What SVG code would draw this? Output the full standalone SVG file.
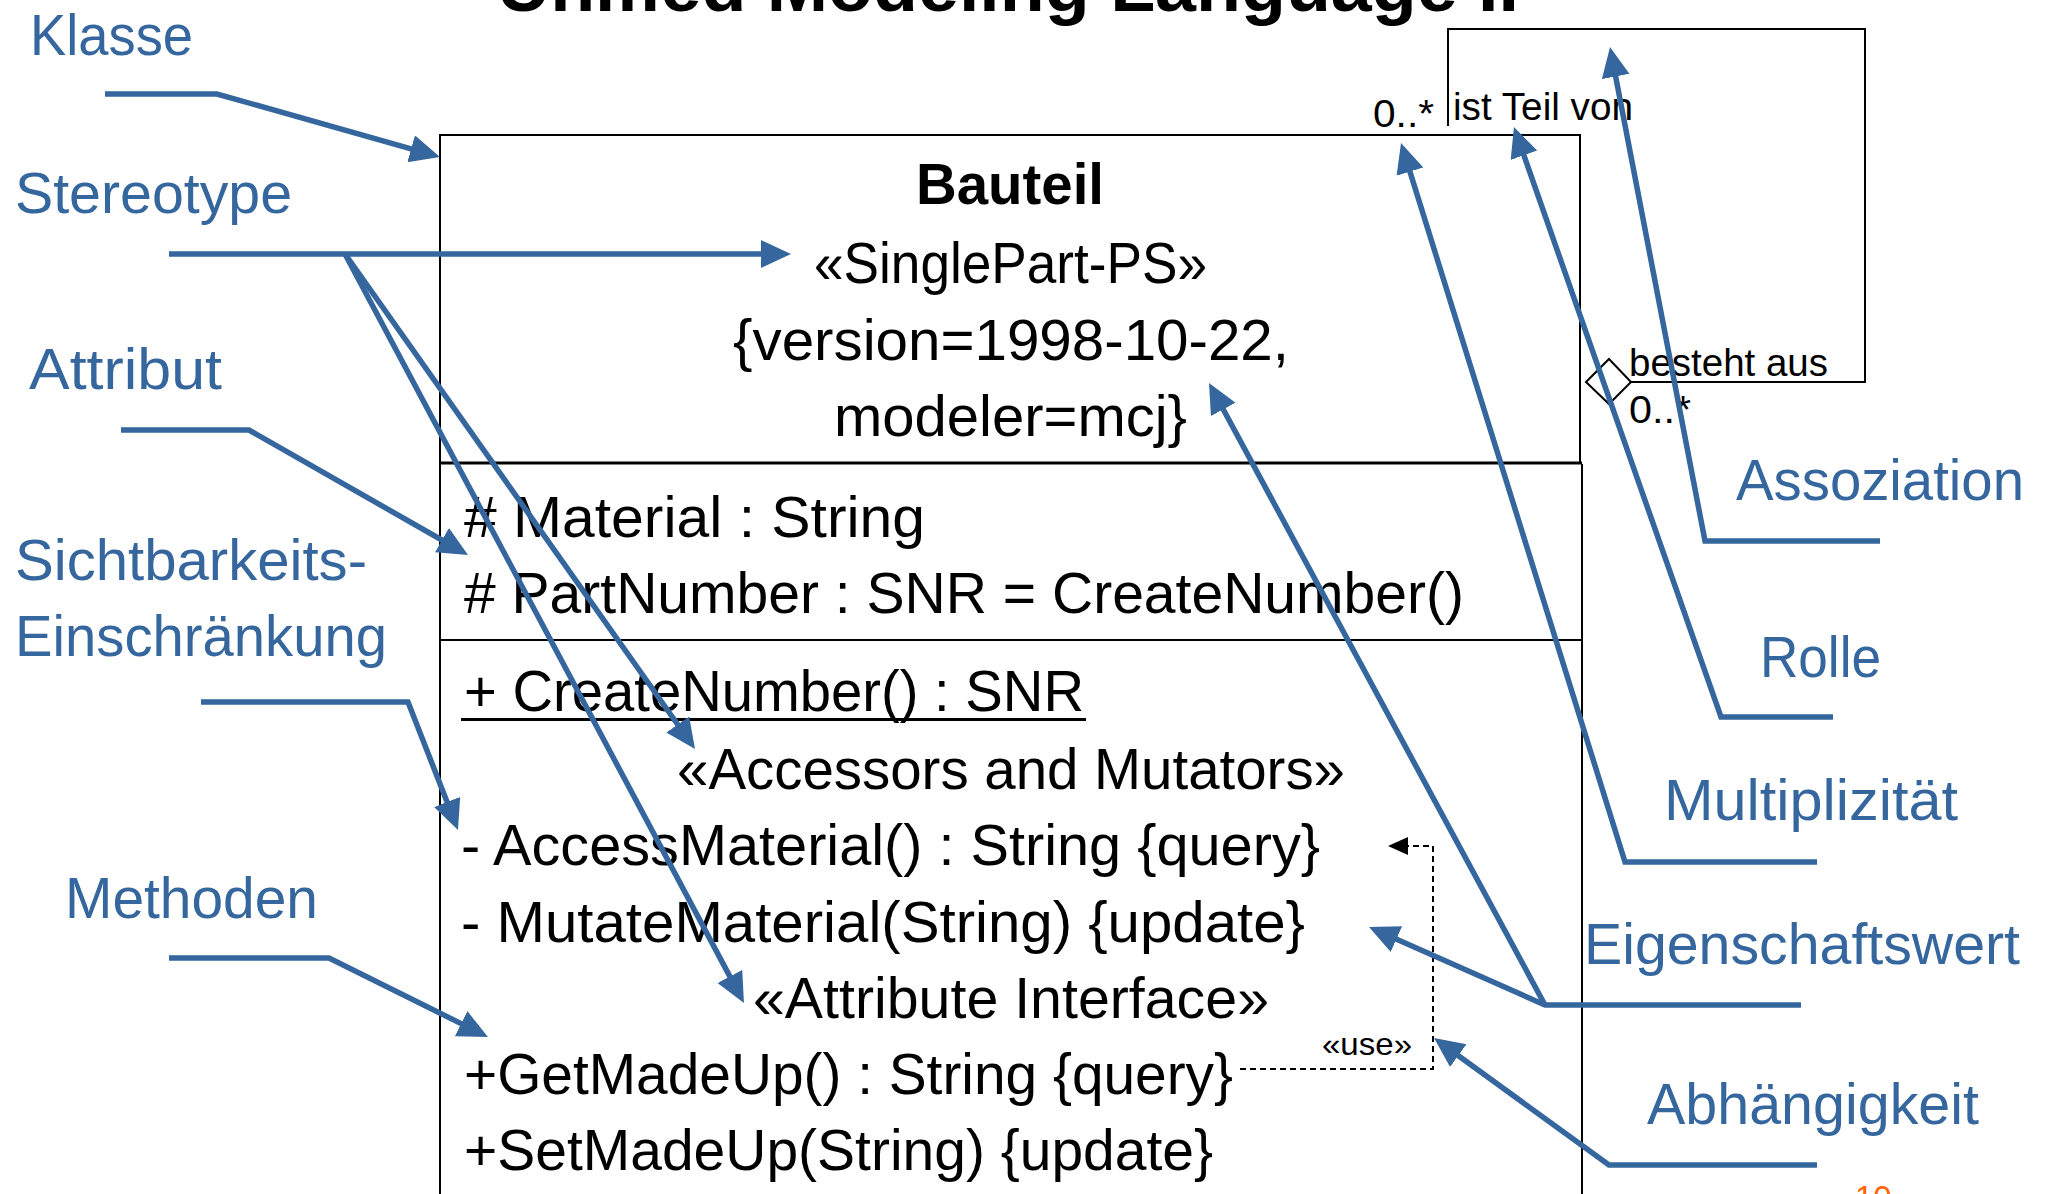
<svg xmlns="http://www.w3.org/2000/svg" width="2049" height="1194" viewBox="0 0 2049 1194">
<style>
.lbl{font-family:"Liberation Sans",Arial,sans-serif;font-size:57px;fill:#35679E}
.cls{font-family:"Liberation Sans",Arial,sans-serif;font-size:57px;fill:#000}
.sm{font-family:"Liberation Sans",Arial,sans-serif;font-size:38px;fill:#000}
.box{fill:none;stroke:#000;stroke-width:2}
.con{fill:none;stroke:#35679E;stroke-width:5.5;marker-end:url(#ab)}
</style>
<defs>
<marker id="ab" markerUnits="userSpaceOnUse" markerWidth="32" markerHeight="30" refX="22" refY="14" orient="auto">
<path d="M0,0 L30,14 L0,28 z" fill="#35679E"/>
</marker>
</defs>
<rect width="2049" height="1194" fill="#fff"/>
<text x="497" y="11" font-family="Liberation Sans,Arial,sans-serif" font-size="72" font-weight="bold" textLength="1022" lengthAdjust="spacingAndGlyphs">Unified Modeling Language II</text>

<g id="bauteil">
<rect x="440" y="135" width="1140" height="328" class="box"/>
<path d="M440,464 V1200 M1582,464 V1200" class="box"/>
<line x1="440" y1="463" x2="1582" y2="463" stroke="#000" stroke-width="3"/>
<line x1="440" y1="640" x2="1582" y2="640" stroke="#000" stroke-width="2"/>
<text x="916" y="204" class="cls" font-weight="bold" textLength="188" lengthAdjust="spacingAndGlyphs">Bauteil</text>
<text x="814" y="283" class="cls" textLength="393" lengthAdjust="spacingAndGlyphs">«SinglePart-PS»</text>
<text x="733" y="360" class="cls" textLength="556" lengthAdjust="spacingAndGlyphs">{version=1998-10-22,</text>
<text x="834" y="436" class="cls" textLength="353" lengthAdjust="spacingAndGlyphs">modeler=mcj}</text>
<text x="464" y="537" class="cls" textLength="461" lengthAdjust="spacingAndGlyphs"># Material : String</text>
<text x="464" y="613" class="cls" textLength="1000" lengthAdjust="spacingAndGlyphs"># PartNumber : SNR = CreateNumber()</text>
<text x="464" y="711" class="cls" textLength="620" lengthAdjust="spacingAndGlyphs">+ CreateNumber() : SNR</text>
<line x1="461" y1="719.5" x2="1086" y2="719.5" stroke="#000" stroke-width="3"/>
<text x="677" y="789" class="cls" textLength="668" lengthAdjust="spacingAndGlyphs">«Accessors and Mutators»</text>
<text x="461" y="865" class="cls" textLength="859" lengthAdjust="spacingAndGlyphs">- AccessMaterial() : String {query}</text>
<text x="461" y="942" class="cls" textLength="844" lengthAdjust="spacingAndGlyphs">- MutateMaterial(String) {update}</text>
<text x="753" y="1018" class="cls" textLength="516" lengthAdjust="spacingAndGlyphs">«Attribute Interface»</text>
<text x="464" y="1094" class="cls" textLength="769" lengthAdjust="spacingAndGlyphs">+GetMadeUp() : String {query}</text>
<text x="464" y="1170" class="cls" textLength="749" lengthAdjust="spacingAndGlyphs">+SetMadeUp(String) {update}</text>
</g>

<g id="association">
<path d="M1631,382 H1865 V29 H1448 V126" class="box"/>
<path d="M1586,382 L1609,359 L1631,382 L1609,404 Z" fill="#fff" stroke="#000" stroke-width="2"/>
<text x="1373" y="127" class="sm" textLength="61" lengthAdjust="spacingAndGlyphs">0..*</text>
<text x="1453" y="120" class="sm" textLength="180" lengthAdjust="spacingAndGlyphs">ist Teil von</text>
<text x="1629" y="376" class="sm" textLength="199" lengthAdjust="spacingAndGlyphs">besteht aus</text>
<text x="1629" y="423" class="sm" textLength="62" lengthAdjust="spacingAndGlyphs">0..*</text>
</g>

<g id="dependency">
<path d="M1240,1069 H1433 V846 H1408" fill="none" stroke="#000" stroke-width="2" stroke-dasharray="6,4"/>
<path d="M1388,846 L1408,837 L1408,855 Z" fill="#000"/>
<text x="1322" y="1055" font-family="Liberation Sans,Arial,sans-serif" font-size="32" textLength="90" lengthAdjust="spacingAndGlyphs">«use»</text>
</g>

<g id="labels">
<text x="30" y="55" class="lbl" textLength="163" lengthAdjust="spacingAndGlyphs">Klasse</text>
<text x="15" y="213" class="lbl" textLength="277" lengthAdjust="spacingAndGlyphs">Stereotype</text>
<text x="29" y="389" class="lbl" textLength="193" lengthAdjust="spacingAndGlyphs">Attribut</text>
<text x="15" y="580" class="lbl" textLength="352" lengthAdjust="spacingAndGlyphs">Sichtbarkeits-</text>
<text x="15" y="656" class="lbl" textLength="372" lengthAdjust="spacingAndGlyphs">Einschränkung</text>
<text x="65" y="918" class="lbl" textLength="253" lengthAdjust="spacingAndGlyphs">Methoden</text>
<text x="1736" y="500" class="lbl" textLength="288" lengthAdjust="spacingAndGlyphs">Assoziation</text>
<text x="1760" y="677" class="lbl" textLength="121" lengthAdjust="spacingAndGlyphs">Rolle</text>
<text x="1664" y="820" class="lbl" textLength="294" lengthAdjust="spacingAndGlyphs">Multiplizität</text>
<text x="1584" y="964" class="lbl" textLength="436" lengthAdjust="spacingAndGlyphs">Eigenschaftswert</text>
<text x="1647" y="1124" class="lbl" textLength="332" lengthAdjust="spacingAndGlyphs">Abhängigkeit</text>
</g>

<g id="connectors">
<polyline points="105,94 217,94 432.3,154.8" class="con"/>
<polyline points="169,254 783,254" class="con"/>
<polyline points="345,254 690.4,742.5" class="con"/>
<polyline points="345,254 740.2,995.9" class="con"/>
<polyline points="121,430 249,430 461.1,551" class="con"/>
<polyline points="201,702 408,702 455.1,822.5" class="con"/>
<polyline points="169,958 329,958 480.8,1033.4" class="con"/>
<polyline points="1880,541 1705,541 1611.5,54.9" class="con"/>
<polyline points="1833,717 1721,717 1516.6,134.5" class="con"/>
<polyline points="1817,862 1625,862 1403.4,150.6" class="con"/>
<polyline points="1801,1005 1545,1005 1376.3,930.2" class="con"/>
<polyline points="1545,1005 1212.8,390" class="con"/>
<polyline points="1817,1165 1609,1165 1440.5,1042.7" class="con"/>
</g>

<text x="1855" y="1209" font-family="Liberation Sans,Arial,sans-serif" font-size="33" fill="#F60">10</text>
</svg>
